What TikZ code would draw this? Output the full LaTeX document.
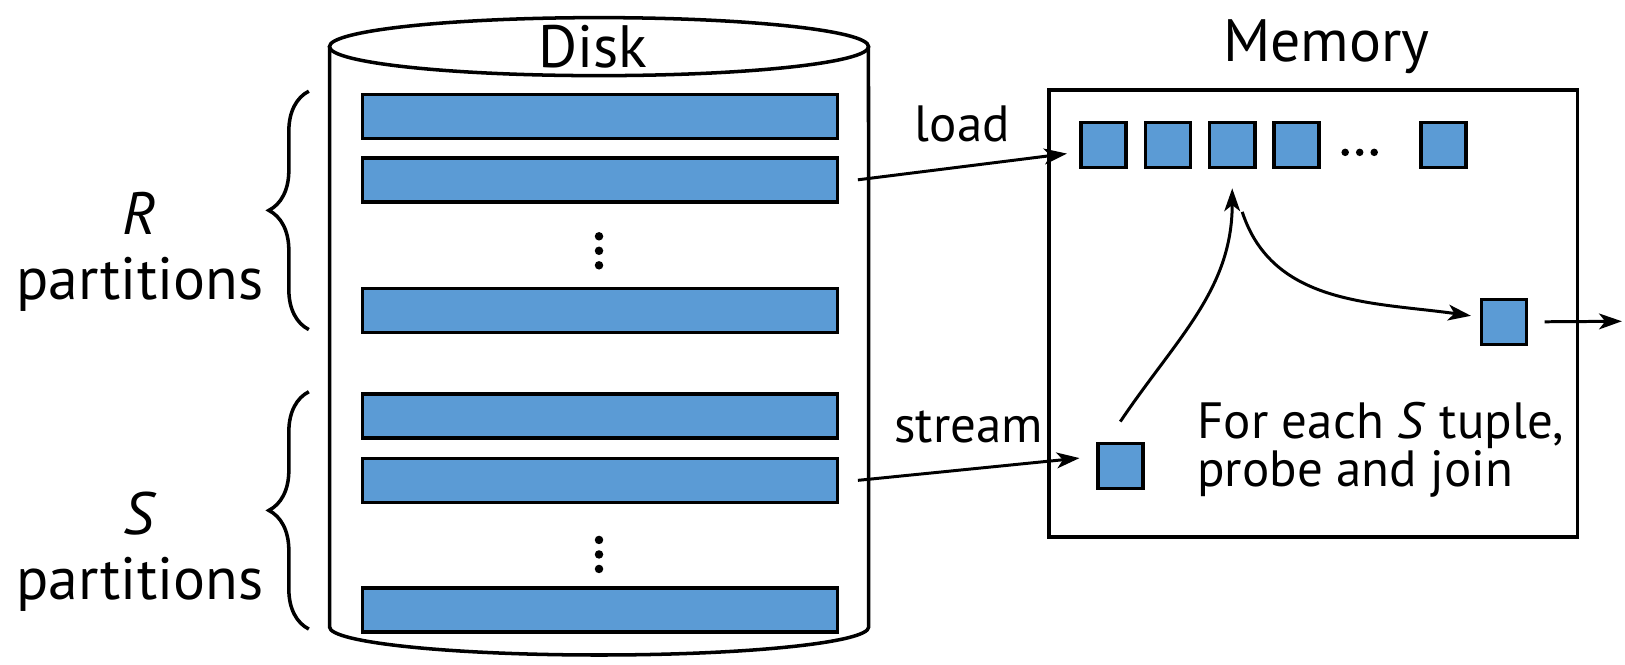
\documentclass[tikz,border=0pt]{standalone}
\usepackage{fontspec}
\setmainfont{PT Sans}
\usetikzlibrary{arrows.meta,decorations.pathreplacing}
\definecolor{cellblue}{RGB}{91,155,213}

\begin{document}
\begin{tikzpicture}[x=0.020728cm, y=-0.020728cm, line width=2pt,
    bar/.style={rectangle, draw, fill=cellblue, minimum width=9.5cm, minimum height=0.88cm, inner sep=0pt},
    cell/.style={rectangle, draw, fill=cellblue, minimum size=0.9cm, inner sep=0pt},
    big/.style={font=\fontsize{34}{37}\selectfont, align=center},
    lbl/.style={font=\fontsize{29}{27}\selectfont},
    arr/.style={-{Stealth[length=13pt,width=9pt,inset=3.5pt]}, line width=1.7pt},
    dot/.style={circle, fill, inner sep=0pt, minimum size=0.17cm},
    brc/.style={decorate, decoration={brace, amplitude=0.8cm, aspect=0.5}}]

\useasboundingbox (0,0) rectangle (1568,641);

% Disk
\draw (578,45) ellipse [x radius=5.39cm, y radius=0.58cm];
\draw (318,45) -- (318,605) arc[start angle=180, end angle=360, x radius=5.39cm, y radius=0.56cm] -- (838,45);
\node[big] (disklabel) at (572,45) {Disk};

\node[bar] (bar1) at (579,112.5) {};
\node[bar] (bar2) at (579,173.5) {};
\node[bar] (bar3) at (579,299.5) {};
\node[bar] (bar4) at (579,401.5) {};
\node[bar] (bar5) at (579,463.5) {};
\node[bar] (bar6) at (579,588.5) {};
\foreach \y in {228,242,256,521,535,549}
  \node[dot] at (578,\y) {};

% Partitions
\draw[brc] (298,318) -- (298,88);
\draw[brc] (298,607) -- (298,378);
\node[big] (rtext) at (135,243) {\textit{R}\\partitions};
\node[big] (stext) at (135,532) {\textit{S}\\partitions};

% Memory
\node[draw, minimum width=10.57cm, minimum height=8.93cm] (mem) at (1267,302.5) {};
\node[big] (memlabel) at (1280,45) {Memory};
\foreach \i in {1,...,4}
  \node[cell] (m\i) at ({1003+62*\i},140) {};
\node[cell] (m5) at (1393,140) {};
\foreach \x in {1298,1312,1326}
  \node[dot, minimum size=0.15cm] at (\x,147) {};
\node[cell] (sq) at (1081,449.5) {};
\node[cell] (res) at (1451,310.5) {};
\node[lbl, anchor=west, align=left] (probe) at (1148,434) {For each \textit{S} tuple,\\probe and join};

% Arrows
\draw[arr] ([xshift=0.37cm]bar2.east) -- node[lbl, above=0.35cm] {load} ([xshift=-0.25cm,yshift=-0.17cm]m1.west);
\draw[arr] ([xshift=0.37cm]bar5.east) -- node[lbl, above=0.38cm] {stream} ([xshift=-0.33cm,yshift=0.155cm]sq.west);
\draw[arr] ([yshift=0.4cm]sq.north) to[out=56, in=-90] ([yshift=-0.38cm]m3.south);
\draw[arr] ([xshift=0.2cm,yshift=-0.85cm]m3.south) to[out=-72, in=172] ([xshift=-0.17cm,yshift=0.12cm]res.west);
\coordinate (outend) at (1565,310);
\draw[arr] ([xshift=0.33cm]res.east) -- (outend);

\end{tikzpicture}
\end{document}
